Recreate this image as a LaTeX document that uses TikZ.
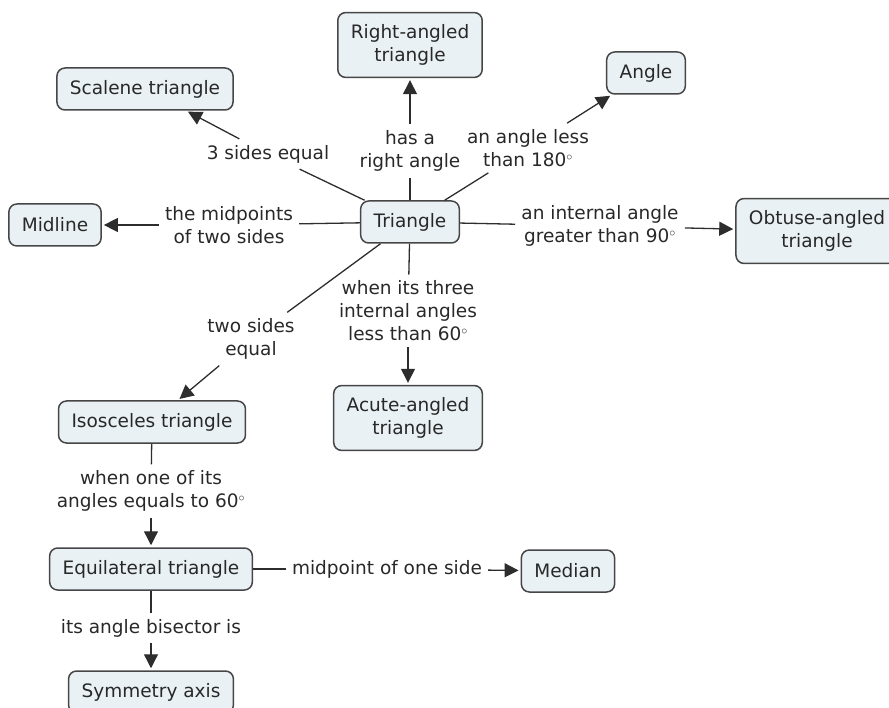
\documentclass[tikz,border=0pt]{standalone}
\usepackage{fontspec}
\setmainfont{DejaVu Sans}
\usepackage{tikz}
\usetikzlibrary{arrows.meta}
\definecolor{boxfill}{RGB}{233,241,245}
\definecolor{boxline}{RGB}{70,70,70}
\definecolor{txt}{RGB}{40,40,40}
\definecolor{lnk}{RGB}{45,45,45}
\tikzstyle{concept}=[draw=boxline,fill=boxfill,rounded corners=8pt,line width=1.5pt,inner xsep=13pt,inner ysep=12pt,minimum height=42pt,align=center,text=txt]
\tikzstyle{linkword}=[align=center,text=txt,inner sep=6pt]
\tikzstyle{link}=[draw=lnk,line width=1.3pt]
\tikzstyle{arr}=[link,-{Triangle[length=14pt,width=14pt]},shorten >=2pt]

\begin{document}
\begin{tikzpicture}[x=1pt,y=-1pt,font=\fontsize{18.5}{23}\selectfont]
\useasboundingbox (0,0) rectangle (889,708);

% concepts
\node[concept] (tri) at (410,222) {Triangle};
\node[concept] (right) at (410,45) {Right-angled\\triangle};
\node[concept] (scalene) at (145,89) {Scalene triangle};
\node[concept] (angle) at (646,73) {Angle};
\node[concept] (midline) at (55,225) {Midline};
\node[concept] (obtuse) at (817,231) {Obtuse-angled\\triangle};
\node[concept] (acute) at (408,418) {Acute-angled\\triangle};
\node[concept] (isosceles) at (152,422) {Isosceles triangle};
\node[concept] (equi) at (151,569) {Equilateral triangle};
\node[concept] (median) at (568,571) {Median};
\node[concept] (axis) at (151,692) {Symmetry axis};

% linking words
\node[linkword] (w1) at (268,154) {3 sides equal};
\node[linkword] (w2) at (410,151) {has a\\right angle};
\node[linkword] (w3) at (528,148) {an angle less\\than 180${}^\circ$};
\node[linkword] (w4) at (229,225) {the midpoints\\of two sides};
\node[linkword] (w5) at (600,226) {an internal angle\\greater than 90${}^\circ$};
\node[linkword] (w6) at (251,339) {two sides\\equal};
\node[linkword] (w7) at (408,311) {when its three\\internal angles\\less than 60${}^\circ$};
\node[linkword] (w8) at (151,491) {when one of its\\angles equals to 60${}^\circ$};
\node[linkword] (w9) at (387,569) {midpoint of one side};
\node[linkword] (w10) at (151,628) {its angle bisector is};

% connections
\draw[link] (tri) -- (w1);  \draw[arr] (w1) -- (scalene);
\draw[link] (tri) -- (w2);  \draw[arr] (w2) -- (right);
\draw[link] (tri) -- (w3);  \draw[arr] (w3) -- (angle);
\draw[link] (tri) -- (w4);  \draw[arr] (w4) -- (midline);
\draw[link] (tri) -- (w5);  \draw[arr] (w5) -- (obtuse);
\draw[link] (tri) -- (w6);  \draw[arr] (w6) -- (isosceles);
\draw[link] (tri) -- (w7);  \draw[arr] (w7) -- (acute);
\draw[link] (isosceles) -- (w8);  \draw[arr] (w8) -- (equi);
\draw[link] (equi) -- (w9);  \draw[arr] (w9) -- (median);
\draw[link] (equi) -- (w10);  \draw[arr] (w10) -- (axis);
\end{tikzpicture}
\end{document}
